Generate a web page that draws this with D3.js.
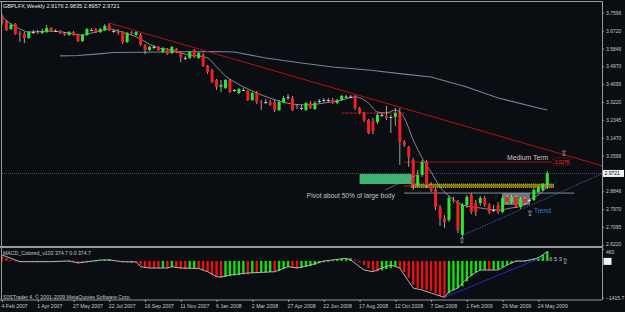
<!DOCTYPE html>
<html>
<head>
<meta charset="utf-8">
<script src="https://d3js.org/d3.v7.min.js"></script>
<style>
  html, body { margin: 0; padding: 0; background: #0a0d12; }
  svg { display: block; font-family: 'Liberation Sans', Arial, sans-serif; }
</style>
</head>
<body>
<div id="chart"></div>
<script>
var title = 'GBPLFX,Weekly  2.9176 2.9835 2.8957 2.9721';
var macdTitle = 'MACD_Colored_v103 374.7 0.0 374.7';
var footer = 'S0STrader 4, \u00a9 2001-2009 MetaQuotes Software Corp.';

// one label every 8 weekly bars
var dateLabels = ['4 Feb 2007', '1 Apr 2007', '27 May 2007', '22 Jul 2007',
  '16 Sep 2007', '11 Nov 2007', '6 Jan 2008', '2 Mar 2008', '27 Apr 2008',
  '22 Jun 2008', '17 Aug 2008', '12 Oct 2008', '7 Dec 2008', '1 Feb 2009',
  '29 Mar 2009', '24 May 2009'];
var priceTicks = [3.7596, 3.6720, 3.5846, 3.4970, 3.4095, 3.3220, 3.2345,
  3.1470, 3.0596, 2.8846, 2.7970, 2.7095, 2.6220];
var lastPrice = 2.9721;
var macdTicks = [460, -1415.7];

// weekly bars: open, high, low, close
var candles = [
  [3.744, 3.753, 3.700, 3.709], [3.714, 3.724, 3.670, 3.675], [3.680, 3.709, 3.675, 3.700],
  [3.704, 3.709, 3.651, 3.655], [3.660, 3.670, 3.616, 3.651], [3.655, 3.665, 3.611, 3.636],
  [3.636, 3.670, 3.631, 3.665], [3.665, 3.675, 3.655, 3.665], [3.665, 3.675, 3.655, 3.660],
  [3.660, 3.680, 3.655, 3.670], [3.665, 3.700, 3.660, 3.685], [3.685, 3.690, 3.665, 3.670],
  [3.670, 3.680, 3.665, 3.670], [3.670, 3.675, 3.655, 3.660], [3.660, 3.665, 3.646, 3.651],
  [3.651, 3.670, 3.646, 3.665], [3.665, 3.670, 3.646, 3.651], [3.651, 3.655, 3.616, 3.621],
  [3.621, 3.655, 3.616, 3.651], [3.651, 3.685, 3.646, 3.680], [3.675, 3.685, 3.670, 3.675],
  [3.680, 3.685, 3.660, 3.665], [3.665, 3.685, 3.660, 3.680], [3.675, 3.704, 3.670, 3.695],
  [3.700, 3.709, 3.670, 3.675], [3.670, 3.680, 3.660, 3.670], [3.670, 3.680, 3.651, 3.660],
  [3.665, 3.670, 3.606, 3.616], [3.616, 3.665, 3.611, 3.660], [3.665, 3.670, 3.651, 3.660],
  [3.651, 3.670, 3.646, 3.665], [3.651, 3.660, 3.597, 3.602], [3.602, 3.606, 3.557, 3.577],
  [3.577, 3.597, 3.572, 3.592], [3.592, 3.602, 3.582, 3.592], [3.592, 3.597, 3.572, 3.577],
  [3.567, 3.592, 3.562, 3.587], [3.582, 3.587, 3.553, 3.557], [3.562, 3.597, 3.557, 3.592],
  [3.582, 3.587, 3.562, 3.567], [3.567, 3.572, 3.518, 3.543], [3.538, 3.548, 3.528, 3.538],
  [3.538, 3.572, 3.533, 3.567], [3.577, 3.582, 3.538, 3.543], [3.538, 3.567, 3.533, 3.562],
  [3.553, 3.562, 3.494, 3.499], [3.499, 3.504, 3.459, 3.469], [3.479, 3.484, 3.415, 3.420],
  [3.430, 3.435, 3.381, 3.396], [3.396, 3.430, 3.371, 3.406], [3.391, 3.435, 3.386, 3.430],
  [3.430, 3.435, 3.366, 3.371], [3.381, 3.386, 3.371, 3.381], [3.366, 3.391, 3.361, 3.386],
  [3.381, 3.391, 3.376, 3.381], [3.376, 3.381, 3.327, 3.332], [3.332, 3.371, 3.327, 3.366],
  [3.366, 3.376, 3.312, 3.322], [3.322, 3.332, 3.283, 3.317], [3.322, 3.337, 3.312, 3.322],
  [3.322, 3.332, 3.303, 3.308], [3.322, 3.332, 3.273, 3.283], [3.283, 3.332, 3.278, 3.322],
  [3.322, 3.352, 3.317, 3.342], [3.347, 3.361, 3.332, 3.347], [3.342, 3.352, 3.278, 3.283],
  [3.303, 3.312, 3.288, 3.298], [3.293, 3.308, 3.283, 3.293], [3.283, 3.322, 3.278, 3.317],
  [3.317, 3.327, 3.288, 3.293], [3.288, 3.327, 3.283, 3.317], [3.327, 3.337, 3.317, 3.327],
  [3.332, 3.342, 3.322, 3.332], [3.332, 3.342, 3.322, 3.332], [3.332, 3.342, 3.312, 3.317],
  [3.317, 3.337, 3.312, 3.332], [3.332, 3.357, 3.327, 3.352], [3.348, 3.357, 3.342, 3.348],
  [3.348, 3.357, 3.342, 3.348], [3.347, 3.357, 3.283, 3.293], [3.293, 3.298, 3.263, 3.268],
  [3.268, 3.273, 3.224, 3.234], [3.234, 3.239, 3.165, 3.170], [3.229, 3.244, 3.165, 3.180],
  [3.224, 3.268, 3.214, 3.259], [3.259, 3.268, 3.249, 3.259], [3.254, 3.303, 3.234, 3.244],
  [3.249, 3.259, 3.170, 3.249], [3.249, 3.293, 3.205, 3.268], [3.268, 3.293, 3.014, 3.126],
  [3.126, 3.136, 3.102, 3.112], [3.102, 3.107, 3.004, 3.053], [3.038, 3.048, 2.891, 2.916],
  [2.916, 2.989, 2.906, 2.965], [2.965, 3.038, 2.955, 3.028], [3.028, 3.038, 2.901, 2.916],
  [2.916, 2.930, 2.881, 2.891], [2.891, 2.901, 2.793, 2.808], [2.808, 2.817, 2.715, 2.754],
  [2.754, 2.768, 2.705, 2.734], [2.744, 2.862, 2.734, 2.852], [2.842, 2.857, 2.827, 2.837],
  [2.832, 2.842, 2.680, 2.695], [2.671, 2.827, 2.656, 2.818], [2.818, 2.867, 2.803, 2.857],
  [2.867, 2.876, 2.773, 2.783], [2.827, 2.842, 2.764, 2.783], [2.827, 2.862, 2.813, 2.852],
  [2.852, 2.862, 2.808, 2.818], [2.818, 2.827, 2.773, 2.783], [2.793, 2.818, 2.783, 2.793],
  [2.818, 2.832, 2.773, 2.783], [2.783, 2.862, 2.778, 2.852], [2.857, 2.867, 2.822, 2.832],
  [2.832, 2.867, 2.822, 2.857], [2.857, 2.867, 2.803, 2.808], [2.808, 2.857, 2.798, 2.847],
  [2.847, 2.857, 2.818, 2.827], [2.842, 2.852, 2.827, 2.842], [2.842, 2.901, 2.837, 2.891],
  [2.881, 2.911, 2.876, 2.901], [2.891, 2.925, 2.886, 2.916], [2.9176, 2.9835, 2.8957, 2.9721]
];

// moving averages: [bar index, price]
var slowMA = [[13, 3.548], [17, 3.550], [21, 3.557], [25, 3.565], [47, 3.570],
  [52, 3.567], [59, 3.538], [67, 3.513], [74, 3.494], [82, 3.479], [90, 3.459],
  [96, 3.445], [104, 3.396], [111, 3.342], [120, 3.293], [122, 3.283]];
var fastMA = [[0, 3.739], [2, 3.704], [4, 3.680], [6, 3.665], [11, 3.670], [15, 3.660],
  [18, 3.650], [20, 3.660], [22, 3.670], [24, 3.680], [26, 3.670], [29, 3.650],
  [31, 3.631], [33, 3.606], [35, 3.587], [38, 3.577], [40, 3.562], [42, 3.552],
  [44, 3.548], [46, 3.538], [48, 3.494], [50, 3.450], [52, 3.420], [55, 3.386],
  [58, 3.357], [62, 3.327], [65, 3.312], [68, 3.308], [72, 3.317], [76, 3.332],
  [79, 3.347], [82, 3.317], [84, 3.273], [86, 3.268], [88, 3.283], [90, 3.244],
  [92, 3.136], [94, 3.048], [96, 2.979], [98, 2.906], [100, 2.862], [103, 2.818],
  [107, 2.803], [111, 2.793], [114, 2.803], [117, 2.818], [118, 2.842], [120, 2.867],
  [122, 2.906]];

var macd = [180, 110, 30, -5, -40, -45, -45, -45, -40, -25, -10, -5, -20, -25, -40, -30,
  -45, -80, -85, -50, -10, 10, 30, 50, 70, 35, -10, -60, -60, -55, -60, -160, -240,
  -270, -275, -290, -270, -295, -240, -260, -300, -320, -290, -280, -300, -350, -430,
  -550, -630, -650, -620, -590, -560, -550, -510, -520, -470, -480, -460, -450, -430,
  -440, -390, -320, -240, -270, -290, -270, -230, -200, -160, -90, -50, -10, 20, 50,
  80, 90, 100, 50, -50, -160, -280, -390, -410, -360, -320, -280, -200, -280, -430,
  -650, -930, -1040, -1080, -1120, -1160, -1240, -1350, -1415, -1260, -1140, -1060,
  -980, -790, -590, -440, -360, -350, -370, -350, -330, -240, -160, -90, -20, -10, 0,
  20, 70, 150, 230, 374.7];
var macdSignal = [[0, 228], [4, -31], [11, -31], [15, 0], [17, -81], [22, 35], [24, 35],
  [27, -31], [30, -43], [31, -224], [33, -275], [37, -275], [38, -224], [40, -275],
  [44, -294], [46, -418], [48, -611], [49, -623], [51, -546], [55, -468], [61, -418],
  [64, -224], [66, -275], [69, -159], [72, -4], [77, 100], [78, 35], [81, -352],
  [83, -418], [85, -275], [87, -159], [89, -275], [91, -805], [92, -1049], [94, -1126],
  [96, -1242], [99, -1410], [100, -1192], [102, -1049], [103, -855], [105, -546],
  [107, -352], [111, -352], [113, -159], [115, -4], [117, -4], [120, 112], [122, 356]];

// hand drawn objects: [bar index, price]
var resistanceLine = [[24, 3.709], [135, 3.005]];
var supportLine = [[103, 2.668], [135, 2.978]];
var macdTrendLine = [[99, -1415], [121, 160]];
var mediumTermLevel = 3.0276;
var pivotZone = [80, 91.7, 2.9204, 2.9694];
var yellowZone = [91.5, 123.5, 2.9035, 2.9204];
var grayZone = [111.9, 118.1, 2.818, 2.876];
var topLevel = 3.268;
var baseLevel = 2.876;

var W = 625, H = 312;
var plotRight = 602;
var mainTop = 2, mainBottom = 246, macdTop = 248, macdBottom = 300;

var svg = d3.select('#chart').append('svg')
  .attr('width', W)
  .attr('height', H);

svg.append('rect').attr('width', W).attr('height', H).attr('fill', '#0a0d12');

var x = d3.scaleLinear().domain([0, candles.length - 1]).range([2, 547.3]);
var y = d3.scaleLinear().domain([2.6166, 3.8122]).range([mainBottom, mainTop]);
var yM = d3.scaleLinear().domain([-1415.7, 460]).range([297.5, 249]);

var defs = svg.append('defs');
defs.append('clipPath').attr('id', 'mainClip').append('rect')
  .attr('x', 1.5).attr('y', mainTop).attr('width', plotRight - 1.5).attr('height', mainBottom - mainTop);
defs.append('clipPath').attr('id', 'macdClip').append('rect')
  .attr('x', 1.5).attr('y', macdTop).attr('width', plotRight - 1.5).attr('height', macdBottom - macdTop);

var main = svg.append('g').attr('clip-path', 'url(#mainClip)');
var sub = svg.append('g').attr('clip-path', 'url(#macdClip)');

function hline(g, i0, i1, price, color, width, dash) {
  g.append('line')
    .attr('x1', x(i0)).attr('x2', x(i1))
    .attr('y1', y(price)).attr('y2', y(price))
    .attr('stroke', color).attr('stroke-width', width)
    .attr('stroke-dasharray', dash || null);
}

function zone(g, z, fill) {
  return g.append('rect')
    .attr('x', x(z[0])).attr('width', x(z[1]) - x(z[0]))
    .attr('y', y(z[3])).attr('height', y(z[2]) - y(z[3]))
    .attr('fill', fill);
}

// bid line
main.append('line')
  .attr('x1', 0).attr('x2', plotRight)
  .attr('y1', y(lastPrice)).attr('y2', y(lastPrice))
  .attr('stroke', '#4a525c').attr('stroke-width', 1).attr('stroke-dasharray', '1,1');

zone(main, pivotZone, '#3cb371');
zone(main, grayZone, '#8c8c8c').attr('opacity', 0.8);
zone(main, yellowZone, '#7e7414');
hline(main, yellowZone[0], yellowZone[1], yellowZone[3], '#d8c830', 0.8, '1,1');
hline(main, yellowZone[0], yellowZone[1], yellowZone[2], '#d8c830', 0.8, '1,1');

hline(main, 90, 123, mediumTermLevel, '#a01414', 1);
hline(main, 76, 90, topLevel, '#d01c1c', 1, '3,1');
hline(main, 90, 92, 2.911, '#d01c1c', 1);
hline(main, 90, 128, baseLevel, '#9fb2c4', 0.8);

var line = d3.line().x(function(d) { return x(d[0]); }).y(function(d) { return y(d[1]); });

main.append('path').datum(slowMA).attr('d', line)
  .attr('fill', 'none').attr('stroke', '#6f8898').attr('stroke-width', 1.1);
main.append('path').datum(fastMA).attr('d', line.curve(d3.curveMonotoneX))
  .attr('fill', 'none').attr('stroke', '#a9a9a9').attr('stroke-width', 0.8);
line.curve(d3.curveLinear);

// candles
var bars = main.append('g').selectAll('g').data(candles).join('g');
bars.append('line')
  .attr('x1', function(d, i) { return x(i); })
  .attr('x2', function(d, i) { return x(i); })
  .attr('y1', function(d) { return y(d[1]); })
  .attr('y2', function(d) { return y(d[2]); })
  .attr('stroke', '#c8c8c8').attr('stroke-width', 0.8);
bars.append('rect')
  .attr('x', function(d, i) { return x(i) - 1.5; })
  .attr('width', 3)
  .attr('y', function(d) { return y(Math.max(d[0], d[3])); })
  .attr('height', function(d) { return Math.max(0.8, Math.abs(y(d[0]) - y(d[3]))); })
  .attr('fill', function(d) {
    if (d[0] === d[3]) return '#e8e8e8';
    return d[3] > d[0] ? '#2ee82e' : '#f22020';
  });

main.append('path').datum(resistanceLine).attr('d', line)
  .attr('stroke', '#b81010').attr('stroke-width', 1).attr('fill', 'none');
main.append('path').datum(supportLine).attr('d', line)
  .attr('stroke', '#3d72a8').attr('stroke-width', 0.9).attr('stroke-dasharray', '1.5,1.2')
  .attr('fill', 'none');

// leader line for the pivot note
main.append('line')
  .attr('x1', x(85.7)).attr('y1', y(2.891))
  .attr('x2', x(92.8)).attr('y2', y(2.964))
  .attr('stroke', '#9a9a9a').attr('stroke-width', 0.6);

main.append('text').attr('x', x(68.2)).attr('y', y(2.852))
  .attr('font-size', 6.6).attr('fill', '#c4c4c4')
  .text('Pivot about 50% of large body');
main.append('text').attr('x', x(113)).attr('y', y(3.038))
  .attr('font-size', 6.8).attr('fill', '#c4c4c4')
  .text('Medium Term');
main.append('text').attr('x', x(119)).attr('y', y(2.776))
  .attr('font-size', 6.6).attr('fill', '#3f7fc0')
  .text('Trend');

main.append('rect')
  .attr('x', x(123.3)).attr('y', y(mediumTermLevel) - 4)
  .attr('width', 17).attr('height', 7)
  .attr('fill', 'none').attr('stroke', '#e01818').attr('stroke-width', 0.7)
  .attr('stroke-dasharray', '1,1');
main.append('text').attr('x', x(123.3) + 1.5).attr('y', y(mediumTermLevel) + 2)
  .attr('font-size', 4.8).attr('fill', '#f03030')
  .text(mediumTermLevel.toFixed(4));

var arrows = [[125.7, 3.072], [102.9, 2.646], [118.1, 2.778]];
main.selectAll('text.arrow').data(arrows).join('text')
  .attr('class', 'arrow')
  .attr('x', function(d) { return x(d[0]); })
  .attr('y', function(d) { return y(d[1]) + 3; })
  .attr('text-anchor', 'middle')
  .attr('font-family', 'DejaVu Sans')
  .attr('font-size', 8).attr('fill', '#c8c8c8')
  .text('\u21e7');

main.append('text').attr('x', 3).attr('y', 8)
  .attr('font-size', 5.6).attr('fill', '#e8e8e8')
  .text(title);

// MACD pane
sub.append('g').selectAll('rect').data(macd).join('rect')
  .attr('x', function(d, i) { return x(i) - 1.2; })
  .attr('width', 2.4)
  .attr('y', function(d) { return Math.min(yM(0), yM(d)); })
  .attr('height', function(d) { return Math.max(0.8, Math.abs(yM(d) - yM(0))); })
  .attr('fill', function(d, i) {
    return i > 0 && d > macd[i - 1] ? '#10e010' : '#e81010';
  });

var macdLine = d3.line()
  .x(function(d) { return x(d[0]); })
  .y(function(d) { return yM(d[1]); });
sub.append('path').datum(macdSignal).attr('d', macdLine)
  .attr('fill', 'none').attr('stroke', '#b4b4b4').attr('stroke-width', 1);
sub.append('path').datum(macdTrendLine).attr('d', macdLine)
  .attr('fill', 'none').attr('stroke', '#2a2ad8').attr('stroke-width', 0.9);

sub.append('text').attr('x', 3).attr('y', 255)
  .attr('font-size', 5.2).attr('fill', '#c8c8c8')
  .text(macdTitle);
sub.append('text').attr('x', 3).attr('y', 298.5)
  .attr('font-size', 5.2).attr('fill', '#c8c8c8')
  .text(footer);
sub.append('text').attr('x', x(122) + 2).attr('y', yM(0))
  .attr('font-size', 5.6).attr('fill', '#c8c8c8')
  .text('6 5 3');
sub.append('text').attr('x', x(126)).attr('y', yM(0) + 3)
  .attr('text-anchor', 'middle')
  .attr('font-family', 'DejaVu Sans')
  .attr('font-size', 8).attr('fill', '#c8c8c8')
  .text('\u21e7');

// frame
var frame = svg.append('g').attr('stroke', '#9a9a9a').attr('fill', 'none');
frame.append('line').attr('x1', 0).attr('x2', plotRight).attr('y1', 1.5).attr('y2', 1.5);
frame.append('line').attr('x1', 1.5).attr('x2', 1.5).attr('y1', 1).attr('y2', macdBottom);
frame.append('line').attr('x1', 0).attr('x2', plotRight).attr('y1', 247).attr('y2', 247)
  .attr('stroke-width', 2);
frame.append('line').attr('x1', 0).attr('x2', plotRight).attr('y1', macdBottom).attr('y2', macdBottom);

// price axis
var priceAxis = svg.append('g')
  .attr('transform', 'translate(' + plotRight + ',0)')
  .call(d3.axisRight(y).tickValues(priceTicks).tickSize(2).tickPadding(2)
    .tickFormat(d3.format('.4f')));
priceAxis.select('.domain').attr('stroke', '#9a9a9a').attr('d', 'M0.5,1V' + macdBottom);
priceAxis.selectAll('line').attr('stroke', '#9a9a9a');
priceAxis.selectAll('text').attr('fill', '#c8c8c8').attr('font-size', 5)
  .attr('font-family', "'Liberation Sans', Arial, sans-serif");
priceAxis.selectAll('.tick').filter(function(d) { return d === 2.6220; })
  .select('text').attr('dy', '0.1em');

var macdAxis = svg.append('g')
  .attr('transform', 'translate(' + plotRight + ',0)')
  .call(d3.axisRight(yM).tickValues(macdTicks).tickSize(2).tickPadding(2)
    .tickFormat(function(d) { return d === 460 ? '460' : d3.format('.1f')(d); }));
macdAxis.select('.domain').remove();
macdAxis.selectAll('line').attr('stroke', '#9a9a9a');
macdAxis.selectAll('text').attr('fill', '#c8c8c8').attr('font-size', 5)
  .attr('font-family', "'Liberation Sans', Arial, sans-serif");
macdAxis.selectAll('.tick').filter(function(d) { return d === 460; })
  .select('text').attr('dy', '0.85em');

// current price tag
svg.append('rect').attr('x', plotRight + 1).attr('y', y(lastPrice) - 3.5)
  .attr('width', 21).attr('height', 7).attr('fill', '#f2f2f2');
svg.append('text').attr('x', plotRight + 2.5).attr('y', y(lastPrice) + 2)
  .attr('font-size', 5).attr('fill', '#000')
  .text(lastPrice.toFixed(4));
svg.append('rect').attr('x', plotRight + 1.5).attr('y', yM(0) - 3)
  .attr('width', 8).attr('height', 7).attr('fill', '#f2f2f2');

// date axis
var dateAxis = svg.append('g')
  .attr('transform', 'translate(0,' + macdBottom + ')')
  .call(d3.axisBottom(x).tickValues(d3.range(0, candles.length, 8)).tickSize(2)
    .tickFormat(function(d) { return dateLabels[d / 8]; }));
dateAxis.select('.domain').remove();
dateAxis.selectAll('line').attr('stroke', '#9a9a9a');
dateAxis.selectAll('text').attr('fill', '#c8c8c8').attr('font-size', 5.2)
  .attr('text-anchor', 'start').attr('dx', -1).attr('dy', '0.55em')
  .attr('font-family', "'Liberation Sans', Arial, sans-serif");
</script>
</body>
</html>
